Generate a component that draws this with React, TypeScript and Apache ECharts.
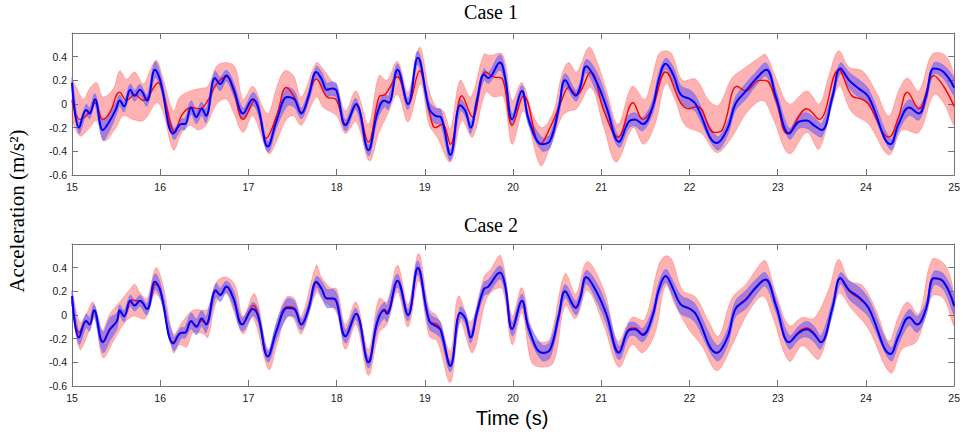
import React, { useEffect, useRef } from "react";
import * as echarts from "echarts";

type P = [number, number];
type B = [number, number, number];

const timeRange: P = [15, 25];
const accelRange: P = [-0.6, 0.6];
const timeTickStep = 1;
const accelTickStep = 0.2;
const accelTickLabels: string[] = ["-0.6", "-0.4", "-0.2", "0", "0.2", "0.4", ""];
const panelTitles = ["Case 1", "Case 2"];
const xAxisName = "Time (s)";
const yAxisName = "Acceleration (m/s²)";

// ---------- Case 1 ----------
// [time, mean, half-width of band]
const case1Blue: B[] = [
  [15.0, 0.18, 0.045], [15.08, -0.2, 0.045], [15.16, -0.05, 0.045], [15.2, -0.08, 0.045], [15.26, 0.04, 0.045],
  [15.35, -0.22, 0.085], [15.43, -0.14, 0.075], [15.5, -0.04, 0.055], [15.54, 0.03, 0.045], [15.59, -0.02, 0.045],
  [15.66, 0.12, 0.045], [15.71, 0.07, 0.045], [15.77, 0.12, 0.045], [15.85, 0.03, 0.045], [15.94, 0.29, 0.065],
  [16.0, 0.2, 0.055], [16.15, -0.25, 0.045], [16.24, -0.17, 0.045], [16.28, -0.17, 0.045], [16.35, -0.03, 0.055],
  [16.41, -0.11, 0.055], [16.47, -0.04, 0.055], [16.52, -0.1, 0.055], [16.62, 0.22, 0.055], [16.68, 0.17, 0.055],
  [16.75, 0.24, 0.045], [16.83, 0.13, 0.055], [16.94, -0.08, 0.045], [17.05, 0.04, 0.055], [17.11, -0.03, 0.055],
  [17.22, -0.36, 0.045], [17.32, -0.14, 0.055], [17.44, 0.06, 0.075], [17.52, 0.04, 0.065], [17.6, -0.08, 0.045],
  [17.68, 0.06, 0.045], [17.77, 0.27, 0.045], [17.83, 0.21, 0.055], [17.89, 0.12, 0.055], [17.95, 0.13, 0.055],
  [18.0, 0.11, 0.055], [18.1, -0.18, 0.045], [18.22, 0.0, 0.045], [18.36, -0.39, 0.045], [18.46, -0.08, 0.055],
  [18.54, 0.03, 0.055], [18.59, 0.01, 0.055], [18.69, 0.29, 0.045], [18.81, 0.0, 0.045], [18.92, 0.39, 0.055],
  [19.05, -0.04, 0.055], [19.12, -0.1, 0.065], [19.18, -0.11, 0.065], [19.29, -0.43, 0.045], [19.4, -0.01, 0.045],
  [19.46, -0.06, 0.045], [19.52, -0.2, 0.045], [19.59, 0.03, 0.045], [19.67, 0.25, 0.045], [19.72, 0.22, 0.045],
  [19.85, 0.35, 0.065], [19.91, 0.22, 0.065], [19.99, -0.13, 0.045], [20.1, 0.11, 0.045], [20.18, -0.14, 0.045],
  [20.33, -0.34, 0.055], [20.42, -0.31, 0.055], [20.52, -0.03, 0.055], [20.59, 0.2, 0.055], [20.71, 0.07, 0.045],
  [20.76, 0.14, 0.045], [20.83, 0.32, 0.055], [20.95, 0.18, 0.085], [21.06, -0.03, 0.075], [21.2, -0.32, 0.045],
  [21.31, -0.15, 0.055], [21.38, -0.13, 0.055], [21.47, -0.17, 0.055], [21.58, -0.03, 0.055], [21.65, 0.2, 0.055],
  [21.73, 0.34, 0.045], [21.82, 0.24, 0.065], [21.9, 0.08, 0.075], [22.01, 0.04, 0.075], [22.07, 0.0, 0.065],
  [22.31, -0.33, 0.055], [22.43, -0.21, 0.055], [22.52, 0.0, 0.055], [22.64, 0.11, 0.065], [22.75, 0.21, 0.055],
  [22.87, 0.29, 0.055], [22.98, 0.06, 0.055], [23.13, -0.25, 0.045], [23.24, -0.15, 0.055], [23.33, -0.14, 0.065],
  [23.41, -0.18, 0.065], [23.5, -0.22, 0.055], [23.62, 0.06, 0.045], [23.71, 0.3, 0.045], [23.81, 0.2, 0.065],
  [23.92, 0.13, 0.075], [24.03, 0.06, 0.065], [24.28, -0.34, 0.045], [24.37, -0.17, 0.055], [24.49, -0.03, 0.065],
  [24.6, -0.08, 0.055], [24.68, 0.06, 0.045], [24.77, 0.3, 0.045], [24.88, 0.27, 0.055], [25.0, 0.14, 0.065],
];

const case1RedMean: P[] = [
  [15.0, 0.03], [15.09, -0.13], [15.2, -0.07], [15.26, 0.01], [15.35, -0.13], [15.43, -0.07], [15.54, 0.1],
  [15.62, 0.03], [15.71, 0.08], [15.81, 0.03], [15.98, 0.18], [16.03, 0.1], [16.17, -0.24], [16.24, -0.1],
  [16.35, -0.03], [16.45, -0.04], [16.54, 0.03], [16.64, 0.17], [16.75, 0.23], [16.83, 0.11], [16.94, -0.13],
  [17.07, 0.03], [17.2, -0.29], [17.32, -0.1], [17.43, 0.14], [17.52, 0.06], [17.6, -0.07], [17.77, 0.21],
  [17.89, 0.06], [17.99, 0.04], [18.1, -0.17], [18.22, -0.01], [18.36, -0.32], [18.48, 0.06], [18.55, 0.08],
  [18.69, 0.23], [18.81, 0.0], [18.94, 0.28], [19.05, -0.06], [19.12, -0.2], [19.2, -0.17], [19.29, -0.34],
  [19.42, 0.07], [19.54, -0.11], [19.69, 0.27], [19.78, 0.23], [19.87, 0.22], [19.99, -0.18], [20.12, 0.07],
  [20.31, -0.34], [20.42, -0.2], [20.55, 0.03], [20.63, 0.14], [20.72, 0.08], [20.88, 0.27], [21.03, -0.06],
  [21.19, -0.28], [21.36, 0.01], [21.47, -0.13], [21.58, -0.03], [21.73, 0.27], [21.9, 0.01], [21.99, -0.04],
  [22.09, -0.02], [22.28, -0.24], [22.37, -0.22], [22.54, 0.15], [22.64, 0.11], [22.79, 0.2], [22.86, 0.2],
  [22.98, 0.03], [23.11, -0.25], [23.33, -0.04], [23.47, -0.13], [23.69, 0.29], [23.84, 0.07], [23.96, 0.04],
  [24.03, 0.0], [24.26, -0.28], [24.37, -0.11], [24.47, 0.1], [24.6, -0.04], [24.77, 0.24], [24.88, 0.15],
  [25.0, -0.02],
];

const case1RedUpper: P[] = [
  [15.0, 0.2], [15.05, 0.14], [15.13, 0.04], [15.2, 0.13], [15.28, 0.18], [15.35, 0.06], [15.47, 0.13],
  [15.54, 0.28], [15.62, 0.21], [15.71, 0.27], [15.81, 0.17], [15.9, 0.31], [15.96, 0.37], [16.03, 0.22],
  [16.15, -0.06], [16.22, 0.06], [16.34, 0.11], [16.45, 0.13], [16.54, 0.15], [16.64, 0.32], [16.75, 0.35],
  [16.85, 0.31], [16.94, 0.04], [17.05, 0.15], [17.17, -0.04], [17.23, -0.08], [17.32, 0.14], [17.41, 0.28],
  [17.51, 0.24], [17.6, 0.06], [17.77, 0.35], [17.83, 0.31], [17.93, 0.21], [18.0, 0.15], [18.1, -0.06],
  [18.22, 0.11], [18.36, -0.17], [18.48, 0.24], [18.57, 0.2], [18.69, 0.36], [18.81, 0.1], [18.94, 0.48],
  [19.05, 0.11], [19.14, -0.04], [19.21, -0.06], [19.29, -0.21], [19.4, 0.2], [19.52, 0.06], [19.67, 0.42],
  [19.74, 0.41], [19.88, 0.42], [19.99, 0.03], [20.1, 0.18], [20.23, -0.1], [20.33, -0.2], [20.46, -0.06],
  [20.55, 0.24], [20.63, 0.35], [20.72, 0.27], [20.86, 0.48], [20.95, 0.36], [21.06, 0.11], [21.19, -0.17],
  [21.35, 0.15], [21.49, 0.04], [21.56, 0.17], [21.65, 0.42], [21.73, 0.45], [21.8, 0.42], [21.92, 0.2],
  [22.07, 0.21], [22.22, 0.03], [22.33, -0.01], [22.48, 0.22], [22.6, 0.29], [22.79, 0.39], [22.86, 0.42],
  [22.98, 0.22], [23.13, 0.0], [23.33, 0.11], [23.47, 0.0], [23.58, 0.24], [23.69, 0.45], [23.81, 0.31],
  [23.96, 0.28], [24.11, 0.11], [24.26, -0.1], [24.37, 0.11], [24.47, 0.22], [24.6, 0.11], [24.75, 0.42],
  [24.9, 0.41], [25.0, 0.22],
];

const case1RedLower: P[] = [
  [15.0, -0.11], [15.09, -0.27], [15.2, -0.2], [15.28, -0.14], [15.37, -0.31], [15.49, -0.21], [15.58, -0.1],
  [15.69, -0.13], [15.81, -0.14], [15.96, 0.01], [16.03, -0.06], [16.15, -0.39], [16.24, -0.25], [16.34, -0.18],
  [16.43, -0.22], [16.52, -0.18], [16.64, 0.0], [16.75, 0.04], [16.83, -0.07], [16.94, -0.24], [17.05, -0.1],
  [17.23, -0.42], [17.32, -0.31], [17.43, -0.13], [17.51, -0.1], [17.6, -0.18], [17.77, 0.06], [17.85, -0.03],
  [18.0, -0.1], [18.1, -0.25], [18.22, -0.15], [18.37, -0.48], [18.48, -0.24], [18.57, -0.1], [18.69, 0.08],
  [18.81, -0.15], [18.95, 0.17], [19.05, -0.18], [19.14, -0.28], [19.29, -0.49], [19.42, -0.14], [19.54, -0.28],
  [19.69, 0.1], [19.78, 0.06], [19.89, 0.06], [19.99, -0.34], [20.12, -0.06], [20.31, -0.52], [20.42, -0.36],
  [20.55, -0.11], [20.63, -0.06], [20.72, -0.04], [20.88, 0.14], [21.03, -0.2], [21.17, -0.49], [21.36, -0.2],
  [21.48, -0.34], [21.61, -0.17], [21.73, 0.17], [21.84, 0.03], [21.95, -0.18], [22.14, -0.25], [22.31, -0.41],
  [22.48, -0.28], [22.64, -0.08], [22.83, 0.03], [22.94, -0.11], [23.13, -0.42], [23.33, -0.24], [23.47, -0.38],
  [23.69, 0.15], [23.84, -0.07], [24.03, -0.17], [24.26, -0.43], [24.41, -0.22], [24.6, -0.24], [24.77, 0.08],
  [24.88, 0.01], [25.0, -0.17],
];

// ---------- Case 2 ----------
const case2Blue: B[] = [
  [15.0, 0.16, 0.045], [15.08, -0.19, 0.055], [15.16, -0.05, 0.055], [15.2, -0.08, 0.055], [15.25, 0.04, 0.045],
  [15.35, -0.23, 0.085], [15.43, -0.12, 0.095], [15.51, -0.05, 0.065], [15.54, 0.04, 0.045], [15.59, -0.01, 0.045],
  [15.66, 0.12, 0.045], [15.71, 0.08, 0.045], [15.77, 0.12, 0.045], [15.85, 0.05, 0.045], [15.94, 0.28, 0.065],
  [16.0, 0.21, 0.055], [16.15, -0.24, 0.055], [16.24, -0.15, 0.045], [16.28, -0.15, 0.045], [16.35, -0.05, 0.065],
  [16.41, -0.1, 0.065], [16.47, -0.03, 0.065], [16.52, -0.08, 0.065], [16.63, 0.21, 0.055], [16.68, 0.17, 0.055],
  [16.75, 0.24, 0.045], [16.83, 0.14, 0.065], [16.93, -0.08, 0.055], [17.05, 0.05, 0.055], [17.11, -0.01, 0.055],
  [17.22, -0.35, 0.045], [17.32, -0.13, 0.065], [17.44, 0.06, 0.075], [17.52, 0.05, 0.065], [17.6, -0.08, 0.045],
  [17.68, 0.05, 0.045], [17.77, 0.28, 0.045], [17.83, 0.22, 0.065], [17.89, 0.14, 0.075], [17.96, 0.14, 0.075],
  [18.0, 0.11, 0.065], [18.1, -0.18, 0.055], [18.22, 0.01, 0.045], [18.36, -0.4, 0.045], [18.46, -0.06, 0.065],
  [18.54, 0.04, 0.065], [18.57, 0.01, 0.065], [18.69, 0.29, 0.055], [18.81, 0.0, 0.045], [18.92, 0.4, 0.055],
  [19.05, -0.05, 0.065], [19.14, -0.1, 0.065], [19.18, -0.13, 0.065], [19.29, -0.43, 0.045], [19.4, 0.02, 0.045],
  [19.46, -0.03, 0.045], [19.52, -0.19, 0.045], [19.59, 0.02, 0.045], [19.67, 0.22, 0.055], [19.72, 0.24, 0.055],
  [19.85, 0.36, 0.055], [19.91, 0.25, 0.055], [19.99, -0.12, 0.055], [20.1, 0.12, 0.055], [20.18, -0.12, 0.055],
  [20.33, -0.32, 0.065], [20.42, -0.29, 0.065], [20.52, 0.0, 0.055], [20.59, 0.2, 0.055], [20.71, 0.06, 0.055],
  [20.76, 0.14, 0.055], [20.83, 0.32, 0.055], [20.95, 0.19, 0.075], [21.06, 0.0, 0.075], [21.2, -0.32, 0.055],
  [21.31, -0.13, 0.055], [21.38, -0.12, 0.055], [21.47, -0.17, 0.055], [21.58, -0.01, 0.055], [21.65, 0.21, 0.055],
  [21.73, 0.33, 0.055], [21.82, 0.21, 0.065], [21.9, 0.09, 0.075], [22.01, 0.05, 0.075], [22.07, 0.01, 0.075],
  [22.31, -0.32, 0.065], [22.43, -0.19, 0.065], [22.52, 0.05, 0.065], [22.64, 0.13, 0.075], [22.75, 0.23, 0.065],
  [22.86, 0.3, 0.055], [22.98, 0.08, 0.055], [23.13, -0.23, 0.055], [23.24, -0.15, 0.055], [23.33, -0.12, 0.065],
  [23.41, -0.16, 0.065], [23.49, -0.23, 0.055], [23.62, 0.06, 0.055], [23.71, 0.31, 0.045], [23.81, 0.21, 0.075],
  [23.92, 0.15, 0.085], [24.03, 0.06, 0.075], [24.28, -0.33, 0.055], [24.37, -0.18, 0.065], [24.49, -0.02, 0.065],
  [24.58, -0.08, 0.065], [24.68, 0.05, 0.055], [24.77, 0.31, 0.055], [24.88, 0.28, 0.065], [25.0, 0.08, 0.075],
];

const case2RedMean: P[] = [
  [15.0, 0.12], [15.08, -0.15], [15.16, -0.05], [15.2, -0.08], [15.25, 0.04], [15.35, -0.22], [15.43, -0.12],
  [15.51, -0.05], [15.54, 0.03], [15.59, -0.01], [15.68, 0.13], [15.73, 0.12], [15.77, 0.12], [15.85, 0.05],
  [15.95, 0.26], [16.0, 0.21], [16.15, -0.23], [16.24, -0.15], [16.28, -0.15], [16.35, -0.06], [16.41, -0.09],
  [16.47, -0.05], [16.52, -0.07], [16.63, 0.2], [16.68, 0.17], [16.75, 0.24], [16.83, 0.14], [16.93, -0.08],
  [17.06, 0.08], [17.11, 0.0], [17.22, -0.35], [17.32, -0.13], [17.44, 0.07], [17.52, 0.06], [17.6, -0.08],
  [17.68, 0.05], [17.77, 0.27], [17.83, 0.22], [17.89, 0.14], [17.96, 0.14], [18.0, 0.11], [18.1, -0.18],
  [18.22, 0.01], [18.36, -0.39], [18.46, -0.06], [18.54, 0.05], [18.57, 0.03], [18.69, 0.29], [18.81, 0.0],
  [18.92, 0.39], [19.05, -0.05], [19.14, -0.08], [19.18, -0.12], [19.29, -0.42], [19.4, 0.02], [19.46, -0.03],
  [19.52, -0.19], [19.59, 0.02], [19.67, 0.22], [19.72, 0.24], [19.85, 0.36], [19.91, 0.25], [19.99, -0.12],
  [20.1, 0.12], [20.18, -0.12], [20.33, -0.32], [20.42, -0.3], [20.52, 0.0], [20.59, 0.2], [20.71, 0.07],
  [20.76, 0.14], [20.83, 0.32], [20.95, 0.19], [21.06, 0.0], [21.2, -0.31], [21.31, -0.12], [21.38, -0.11],
  [21.47, -0.16], [21.58, -0.01], [21.65, 0.21], [21.73, 0.33], [21.82, 0.21], [21.9, 0.09], [22.01, 0.05],
  [22.07, 0.01], [22.31, -0.32], [22.43, -0.19], [22.52, 0.05], [22.64, 0.14], [22.75, 0.23], [22.86, 0.3],
  [22.98, 0.08], [23.13, -0.23], [23.24, -0.14], [23.33, -0.11], [23.41, -0.15], [23.49, -0.23], [23.62, 0.06],
  [23.71, 0.31], [23.81, 0.2], [23.92, 0.14], [24.03, 0.06], [24.28, -0.33], [24.37, -0.18], [24.49, -0.02],
  [24.58, -0.08], [24.68, 0.05], [24.77, 0.31], [24.88, 0.28], [25.0, 0.07],
];

const case2RedUpper: P[] = [
  [15.0, 0.19], [15.09, -0.06], [15.17, 0.02], [15.24, 0.11], [15.34, -0.13], [15.43, 0.01], [15.54, 0.11],
  [15.66, 0.22], [15.71, 0.26], [15.77, 0.19], [15.85, 0.14], [15.95, 0.4], [16.03, 0.26], [16.15, -0.16],
  [16.25, -0.06], [16.37, 0.04], [16.49, 0.04], [16.54, 0.05], [16.64, 0.28], [16.75, 0.32], [16.85, 0.25],
  [16.94, -0.01], [17.07, 0.18], [17.22, -0.29], [17.34, -0.01], [17.43, 0.15], [17.52, 0.14], [17.6, -0.01],
  [17.77, 0.42], [17.82, 0.33], [17.93, 0.23], [18.0, 0.22], [18.1, -0.08], [18.22, 0.11], [18.36, -0.29],
  [18.48, 0.14], [18.57, 0.11], [18.69, 0.42], [18.81, 0.09], [18.93, 0.52], [19.05, 0.05], [19.14, -0.01],
  [19.29, -0.3], [19.38, 0.16], [19.52, -0.06], [19.67, 0.32], [19.74, 0.38], [19.86, 0.5], [19.99, -0.01],
  [20.1, 0.23], [20.23, -0.2], [20.33, -0.23], [20.42, -0.2], [20.59, 0.35], [20.71, 0.18], [20.84, 0.45],
  [21.03, 0.21], [21.19, -0.22], [21.35, -0.02], [21.49, -0.04], [21.65, 0.42], [21.73, 0.5], [21.8, 0.47],
  [21.92, 0.21], [22.07, 0.15], [22.22, -0.06], [22.33, -0.18], [22.48, 0.14], [22.64, 0.26], [22.79, 0.42],
  [22.86, 0.46], [22.98, 0.18], [23.13, -0.09], [23.28, -0.02], [23.41, -0.03], [23.58, 0.22], [23.69, 0.47],
  [23.81, 0.29], [23.96, 0.25], [24.11, 0.05], [24.26, -0.22], [24.37, -0.01], [24.47, 0.11], [24.6, 0.01],
  [24.75, 0.47], [24.9, 0.42], [25.0, 0.16],
];

const case2RedLower: P[] = [
  [15.0, 0.08], [15.09, -0.29], [15.18, -0.16], [15.26, -0.03], [15.35, -0.36], [15.47, -0.22], [15.58, -0.08],
  [15.69, -0.01], [15.83, -0.03], [15.94, 0.18], [16.03, 0.08], [16.15, -0.32], [16.22, -0.25], [16.3, -0.27],
  [16.37, -0.15], [16.49, -0.16], [16.54, -0.19], [16.64, 0.12], [16.75, 0.18], [16.83, 0.04], [16.94, -0.16],
  [17.05, -0.02], [17.23, -0.46], [17.32, -0.26], [17.43, -0.01], [17.51, -0.03], [17.6, -0.16], [17.77, 0.19],
  [17.85, 0.12], [18.0, 0.02], [18.1, -0.29], [18.22, -0.08], [18.36, -0.51], [18.48, -0.15], [18.57, -0.08],
  [18.69, 0.19], [18.81, -0.1], [18.93, 0.29], [19.05, -0.18], [19.14, -0.22], [19.29, -0.57], [19.4, -0.06],
  [19.54, -0.32], [19.69, 0.12], [19.78, 0.21], [19.88, 0.22], [19.99, -0.25], [20.1, 0.02], [20.21, -0.4],
  [20.33, -0.44], [20.46, -0.4], [20.59, 0.08], [20.71, -0.03], [20.84, 0.21], [21.03, -0.09], [21.2, -0.44],
  [21.35, -0.25], [21.47, -0.32], [21.61, -0.15], [21.73, 0.25], [21.84, 0.08], [21.99, -0.12], [22.14, -0.26],
  [22.31, -0.47], [22.48, -0.26], [22.64, -0.01], [22.83, 0.16], [22.94, -0.01], [23.13, -0.39], [23.28, -0.26],
  [23.47, -0.37], [23.69, 0.18], [23.84, 0.05], [24.03, -0.12], [24.28, -0.49], [24.41, -0.29], [24.58, -0.22],
  [24.75, 0.16], [24.88, 0.14], [25.0, -0.09],
];

const panels = [
  { title: panelTitles[0], blue: case1Blue, redMean: case1RedMean, redUpper: case1RedUpper, redLower: case1RedLower },
  { title: panelTitles[1], blue: case2Blue, redMean: case2RedMean, redUpper: case2RedUpper, redLower: case2RedLower },
];

const SANS = "'Liberation Sans', Arial, Helvetica, sans-serif";
const SERIF = "'Liberation Serif', 'Times New Roman', Times, serif";
const FRAME = "#737373";

function bandSeries(upper: P[], lower: P[], gi: number, fill: string, stroke: string, lw: number) {
  const pts: P[] = upper.concat(lower.slice().reverse());
  return {
    type: "custom",
    xAxisIndex: gi * 2,
    yAxisIndex: gi * 2,
    data: pts,
    silent: true,
    renderItem: (params: any, api: any) => {
      if (params.dataIndex !== 0) return null;
      const points = pts.map((p) => api.coord(p));
      const tl = api.coord([timeRange[0], accelRange[1]]);
      const br = api.coord([timeRange[1], accelRange[0]]);
      return {
        type: "polygon",
        shape: { points, smooth: 0.35, smoothConstraint: [tl, br] },
        style: { fill, stroke, lineWidth: lw },
      };
    },
  };
}

function lineSeries(data: P[], gi: number, color: string, width: number) {
  return {
    type: "line",
    xAxisIndex: gi * 2,
    yAxisIndex: gi * 2,
    data,
    symbol: "none",
    showSymbol: false,
    smooth: 0.4,
    silent: true,
    lineStyle: { color, width },
  };
}

function fmtAccel(v: number) {
  const k = Math.round((v - accelRange[0]) / accelTickStep);
  return accelTickLabels[k] ?? "";
}

export default function App() {
  const ref = useRef<HTMLDivElement>(null);

  useEffect(() => {
    if (!ref.current) return;
    const chart = echarts.init(ref.current, null, { renderer: "svg" });

    const gridTops = [33, 244];
    const grids = gridTops.map((top) => ({ left: 72, top, width: 883, height: 142, containLabel: false }));

    const xAxes: any[] = [];
    const yAxes: any[] = [];
    gridTops.forEach((_, gi) => {
      ["bottom", "top"].forEach((position, k) => {
        xAxes.push({
          type: "value",
          gridIndex: gi,
          position,
          min: timeRange[0],
          max: timeRange[1],
          interval: timeTickStep,
          axisLine: { show: true, onZero: false, lineStyle: { color: FRAME, width: 1 } },
          axisTick: { show: true, inside: true, length: 6, lineStyle: { color: FRAME } },
          axisLabel: {
            show: k === 0,
            margin: 6,
            fontSize: 10.5,
            color: "#1a1a1a",
            fontFamily: SANS,
            formatter: (v: number) => String(Math.round(v)),
          },
          splitLine: { show: false },
        });
      });
      ["left", "right"].forEach((position, k) => {
        yAxes.push({
          type: "value",
          gridIndex: gi,
          position,
          min: accelRange[0],
          max: accelRange[1],
          interval: accelTickStep,
          axisLine: { show: true, onZero: false, lineStyle: { color: FRAME, width: 1 } },
          axisTick: { show: true, inside: true, length: 6, lineStyle: { color: FRAME } },
          axisLabel: {
            show: k === 0,
            margin: 5,
            fontSize: 10.5,
            color: "#1a1a1a",
            fontFamily: SANS,
            formatter: fmtAccel,
          },
          splitLine: { show: false },
        });
      });
    });

    const series: any[] = [];
    panels.forEach((p, gi) => {
      series.push(bandSeries(p.redUpper, p.redLower, gi, "rgba(255,0,0,0.3)", "rgba(255,90,90,0.45)", 0.8));
      series.push(lineSeries(p.redMean, gi, "#ff0000", 1.4));
      const bUp: P[] = p.blue.map(([t, m, s]) => [t, m + s]);
      const bLo: P[] = p.blue.map(([t, m, s]) => [t, m - s]);
      series.push(bandSeries(bUp, bLo, gi, "rgba(75,65,255,0.48)", "rgba(110,120,255,0.65)", 1.1));
      series.push(lineSeries(p.blue.map(([t, m]) => [t, m] as P), gi, "#0000ff", 2));
    });

    const graphics: any[] = [
      {
        type: "text",
        x: 491,
        y: 11.5,
        style: { text: panels[0].title, font: `20px ${SERIF}`, fill: "#000", align: "center", verticalAlign: "middle" },
      },
      {
        type: "text",
        x: 491,
        y: 224.5,
        style: { text: panels[1].title, font: `20px ${SERIF}`, fill: "#000", align: "center", verticalAlign: "middle" },
      },
      {
        type: "text",
        x: 512,
        y: 418,
        style: { text: xAxisName, font: `20px ${SANS}`, fill: "#000", align: "center", verticalAlign: "middle" },
      },
      {
        type: "text",
        x: 17,
        y: 211,
        rotation: Math.PI / 2,
        style: { text: yAxisName, font: `21px ${SERIF}`, fill: "#000", align: "center", verticalAlign: "middle" },
      },
    ];

    chart.setOption({
      animation: false,
      backgroundColor: "#ffffff",
      grid: grids,
      xAxis: xAxes,
      yAxis: yAxes,
      series,
      graphic: graphics,
    });

    return () => chart.dispose();
  }, []);

  return (
    <div
      ref={ref}
      style={{ position: "fixed", left: 0, top: 0, width: 963, height: 436, background: "#fff" }}
    />
  );
}
